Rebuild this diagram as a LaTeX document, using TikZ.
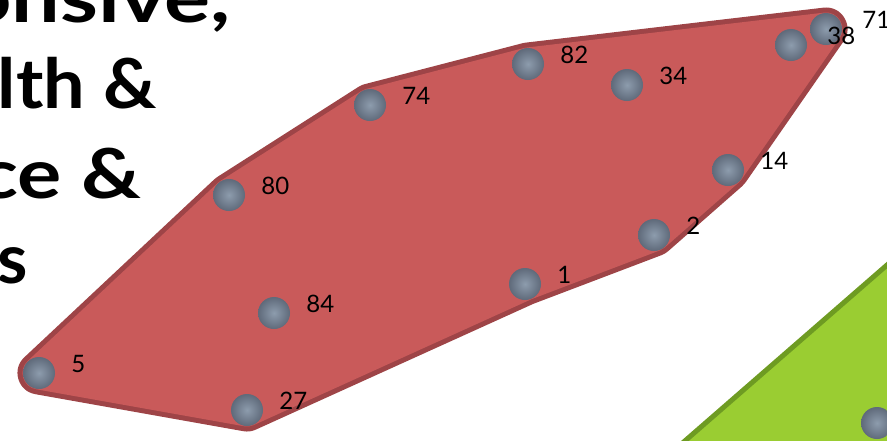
\documentclass[tikz,border=0pt]{standalone}
\usepackage{fontspec}
\setmainfont{Lato}
\usetikzlibrary{positioning,backgrounds}
\definecolor{hullred}{HTML}{C95A5A}
\definecolor{hulledge}{HTML}{9E4447}
\definecolor{hullgreen}{HTML}{9ACD32}
\definecolor{greenedge}{HTML}{6E9B22}
\definecolor{dotout}{HTML}{5F6A7A}
\definecolor{dotin}{HTML}{8D9CAD}

\begin{document}
\begin{tikzpicture}[
    x=1pt, y=-1pt,
    dot/.style={
        circle, inner sep=0pt, minimum size=32pt,
        shading=radial, inner color=dotin, outer color=dotout
    },
    every node/.style={
        font=\fontsize{24}{24}\selectfont
    },
    lbl/.style={inner sep=0pt, text=black, yshift=9pt},
    heading/.style={
        inner sep=0pt, anchor=base east,
        font=\fontsize{69}{69}\selectfont\bfseries
    }
]
\useasboundingbox (0,0) rectangle (887,440);
\clip (0,0) rectangle (887,440);

% heading, cut at the left edge
\node[heading] (t1) at (231,22) {\scalebox{1.25}[1]{onsive,}};
\node[heading] (t2) at (157,108) {\scalebox{1.07}[1]{lth \&}};
\node[heading] (t3) at (142,198) {\scalebox{1.2}[1]{ce \&}};
\node[heading] (t4) at (28,283) {s};

% points
\node[dot] (p5) at (39,373) {};
\node[dot] (p27) at (247,410) {};
\node[dot] (p84) at (274,313) {};
\node[dot] (p80) at (229,195) {};
\node[dot] (p74) at (370,105) {};
\node[dot] (p82) at (528,64) {};
\node[dot] (p34) at (627,85) {};
\node[dot] (p38) at (791,45) {};
\node[dot] (p71) at (826,29) {};
\node[dot] (p14) at (728,170) {};
\node[dot] (p2) at (654,235) {};
\node[dot] (p1) at (525,284) {};
\node[dot] (pg) at (877,423) {};

% labels
\node[lbl, right=16pt of p5] (l5) {5};
\node[lbl, right=16pt of p27] (l27) {27};
\node[lbl, right=16pt of p84] (l84) {84};
\node[lbl, right=16pt of p80] (l80) {80};
\node[lbl, right=16pt of p74] (l74) {74};
\node[lbl, right=16pt of p82] (l82) {82};
\node[lbl, right=16pt of p34] (l34) {34};
\node[lbl, right=20pt of p38] (l38) {38};
\node[lbl, right=20pt of p71] (l71) {71};
\node[lbl, right=16pt of p14] (l14) {14};
\node[lbl, right=16pt of p2] (l2) {2};
\node[lbl, right=16pt of p1] (l1) {1};

\begin{scope}[on background layer]
% red group
\draw[hulledge, fill=hulledge, line width=43pt, line join=round]
    (p71.center) -- (p14.center) -- (p2.center) -- (p1.center) -- (p27.center)
    -- (p5.center) -- (p80.center) -- (p74.center) -- (p82.center) -- cycle;
\draw[hullred, fill=hullred, line width=33pt, line join=round]
    (p71.center) -- (p14.center) -- (p2.center) -- (p1.center) -- (p27.center)
    -- (p5.center) -- (p80.center) -- (p74.center) -- (p82.center) -- cycle;
% green group
\draw[greenedge, fill=hullgreen, line width=5pt, line join=round]
    (663,460) -- (910,245) -- (1000,245) -- (1000,500) -- (663,500) -- cycle;
\end{scope}
\end{tikzpicture}
\end{document}
